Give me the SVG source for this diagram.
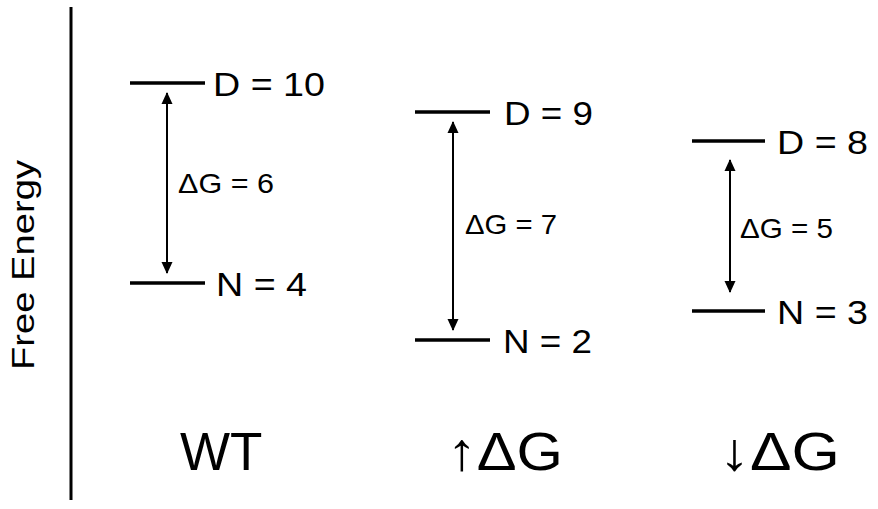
<svg xmlns="http://www.w3.org/2000/svg" width="878" height="509" viewBox="0 0 878 509">
<style>
text{font-family:"Liberation Sans","DejaVu Sans",Arial,sans-serif;fill:#000}
.lvl{stroke:#000;stroke-width:3.5}
.lab{font-size:34px}
.dg{font-size:28px}
.big{font-size:53px}
.conn{stroke:#000;stroke-width:2;fill:none;marker-start:url(#ah);marker-end:url(#ah)}
</style>
<defs>
<marker id="ah" viewBox="0 0 12 12" refX="11" refY="6" markerWidth="13" markerHeight="12" markerUnits="userSpaceOnUse" orient="auto-start-reverse">
<path d="M0,0.5 L12,6 L0,11.5 Z" fill="#000"/>
</marker>
</defs>
<rect width="878" height="509" fill="#fff"/>
<g id="axis">
<line x1="71" y1="7" x2="71" y2="500" stroke="#000" stroke-width="3"/>
<text transform="translate(34,265) rotate(-90)" text-anchor="middle" font-size="31" textLength="210" lengthAdjust="spacingAndGlyphs">Free Energy</text>
</g>
<g id="wt-D"><line class="lvl" x1="130" y1="83" x2="205" y2="83"/><text class="lab" x="213" y="96" textLength="112" lengthAdjust="spacingAndGlyphs">D = 10</text></g>
<g id="wt-N"><line class="lvl" x1="130" y1="283" x2="205" y2="283"/><text class="lab" x="216" y="296" textLength="91" lengthAdjust="spacingAndGlyphs">N = 4</text></g>
<g id="up-D"><line class="lvl" x1="415" y1="112" x2="490" y2="112"/><text class="lab" x="504" y="125" textLength="89" lengthAdjust="spacingAndGlyphs">D = 9</text></g>
<g id="up-N"><line class="lvl" x1="415" y1="340" x2="490" y2="340"/><text class="lab" x="503" y="353" textLength="89" lengthAdjust="spacingAndGlyphs">N = 2</text></g>
<g id="dn-D"><line class="lvl" x1="692" y1="141" x2="765" y2="141"/><text class="lab" x="777" y="154" textLength="91" lengthAdjust="spacingAndGlyphs">D = 8</text></g>
<g id="dn-N"><line class="lvl" x1="692" y1="311" x2="765" y2="311"/><text class="lab" x="777" y="324" textLength="91" lengthAdjust="spacingAndGlyphs">N = 3</text></g>
<g id="connectors">
<line class="conn" x1="167" y1="93" x2="167" y2="273"/>
<line class="conn" x1="453" y1="122" x2="453" y2="330"/>
<line class="conn" x1="730" y1="160" x2="730" y2="292"/>
</g>
<g id="dg-labels">
<text class="dg" x="178" y="193" textLength="96" lengthAdjust="spacingAndGlyphs">ΔG = 6</text>
<text class="dg" x="465" y="234" textLength="92" lengthAdjust="spacingAndGlyphs">ΔG = 7</text>
<text class="dg" x="740" y="238" textLength="93" lengthAdjust="spacingAndGlyphs">ΔG = 5</text>
</g>
<g id="titles">
<text class="big" x="180" y="470">WT</text>
<text class="big" x="447" y="470" textLength="116" lengthAdjust="spacingAndGlyphs">↑ΔG</text>
<text class="big" x="719" y="470" textLength="121" lengthAdjust="spacingAndGlyphs">↓ΔG</text>
</g>
</svg>
